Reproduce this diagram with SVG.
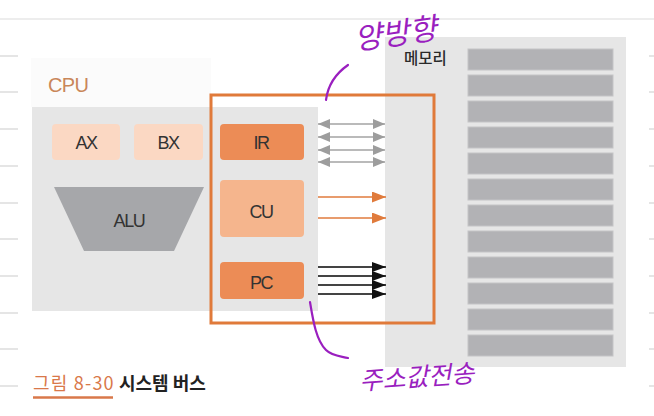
<svg xmlns="http://www.w3.org/2000/svg" width="654" height="416" viewBox="0 0 654 416">
<style>
  .lbl{font-family:"Liberation Sans",Arial,sans-serif;font-size:18px;fill:#333;text-anchor:middle;letter-spacing:-1.4px}
  .kr{font-family:"Noto Sans CJK KR","Noto Sans",sans-serif}
  .tick{stroke:#d4d4d4;stroke-width:1.2}
  .row{fill:#b2b2b5;stroke:#c4c4c6;stroke-width:1}
  .hand{fill:none;stroke:#9a1fbf;stroke-width:2.2;stroke-linecap:round}
  .htext{font-family:"Noto Sans CJK KR",sans-serif;fill:#9a1fbf;font-style:italic}
  .gbus{stroke:#a3a3a3;stroke-width:1.6}
  .obus{stroke:#e07b3c;stroke-width:1.6}
  .kbus{stroke:#444;stroke-width:2.2}
</style>
<defs>
  <marker id="ga" markerUnits="userSpaceOnUse" markerWidth="12" markerHeight="10" refX="12" refY="5" orient="auto-start-reverse">
    <path d="M0,0 L12,5 L0,10 Z" fill="#9d9d9d"/>
  </marker>
  <marker id="oa" markerUnits="userSpaceOnUse" markerWidth="14" markerHeight="11" refX="14" refY="5.5" orient="auto">
    <path d="M0,0 L14,5.5 L0,11 Z" fill="#e07b3c"/>
  </marker>
  <marker id="ka" markerUnits="userSpaceOnUse" markerWidth="14" markerHeight="10" refX="14" refY="5" orient="auto">
    <path d="M0,0 L14,5 L0,10 Z" fill="#111"/>
  </marker>
</defs>
<rect width="654" height="416" fill="#fff"/>
<g id="page-lines">
  <line x1="0" y1="19" x2="654" y2="19" stroke="#dcdcdc" stroke-width="1.2"/>
  <line class="tick" x1="0" y1="56" x2="18" y2="56"/>
  <line class="tick" x1="0" y1="92" x2="18" y2="92"/>
  <line class="tick" x1="0" y1="129" x2="18" y2="129"/>
  <line class="tick" x1="0" y1="166" x2="18" y2="166"/>
  <line class="tick" x1="0" y1="203" x2="18" y2="203"/>
  <line class="tick" x1="0" y1="239" x2="18" y2="239"/>
  <line class="tick" x1="0" y1="276" x2="18" y2="276"/>
  <line class="tick" x1="0" y1="313" x2="18" y2="313"/>
  <line class="tick" x1="0" y1="349" x2="18" y2="349"/>
  <line class="tick" x1="0" y1="386" x2="18" y2="386"/>
  <line class="tick" x1="649" y1="56" x2="654" y2="56"/>
  <line class="tick" x1="649" y1="92" x2="654" y2="92"/>
  <line class="tick" x1="649" y1="129" x2="654" y2="129"/>
  <line class="tick" x1="649" y1="166" x2="654" y2="166"/>
  <line class="tick" x1="649" y1="203" x2="654" y2="203"/>
  <line class="tick" x1="649" y1="239" x2="654" y2="239"/>
  <line class="tick" x1="649" y1="276" x2="654" y2="276"/>
  <line class="tick" x1="649" y1="313" x2="654" y2="313"/>
  <line class="tick" x1="649" y1="349" x2="654" y2="349"/>
  <line class="tick" x1="649" y1="386" x2="654" y2="386"/>
</g>
<g id="memory">
  <rect x="385" y="37" width="241" height="330" fill="#e6e6e6"/>
  <text x="404" y="64" class="kr" font-size="15.5" font-weight="500" fill="#2a2a2a">메모리</text>
  <rect class="row" x="468" y="49" width="145" height="21"/>
  <rect class="row" x="468" y="75" width="145" height="21"/>
  <rect class="row" x="468" y="101" width="145" height="21"/>
  <rect class="row" x="468" y="127" width="145" height="21"/>
  <rect class="row" x="468" y="153" width="145" height="21"/>
  <rect class="row" x="468" y="179" width="145" height="21"/>
  <rect class="row" x="468" y="205" width="145" height="21"/>
  <rect class="row" x="468" y="231" width="145" height="21"/>
  <rect class="row" x="468" y="257" width="145" height="21"/>
  <rect class="row" x="468" y="283" width="145" height="21"/>
  <rect class="row" x="468" y="309" width="145" height="21"/>
  <rect class="row" x="468" y="335" width="145" height="21"/>
</g>
<g id="cpu">
  <rect x="31" y="58" width="180" height="49" fill="#fbfbfb"/>
  <rect x="32" y="107" width="286" height="204" fill="#e6e6e6"/>
  <text x="48" y="92" font-family="Liberation Sans,Arial,sans-serif" font-size="20" fill="#c98659" letter-spacing="-0.6">CPU</text>
</g>
<g id="ax">
  <rect x="52" y="124" width="68" height="36" rx="4" fill="#fbd8c3"/>
  <text class="lbl" x="86" y="148.5">AX</text>
</g>
<g id="bx">
  <rect x="134" y="124" width="69" height="36" rx="4" fill="#fbd8c3"/>
  <text class="lbl" x="168" y="148.5">BX</text>
</g>
<g id="alu">
  <path d="M54,187 L204,187 L174,251 L84,251 Z" fill="#a6a7aa"/>
  <text class="lbl" x="129" y="227">ALU</text>
</g>
<g id="ir">
  <rect x="220" y="124" width="84" height="36" rx="4" fill="#ec8c56"/>
  <text class="lbl" x="261" y="148.5">IR</text>
</g>
<g id="cu">
  <rect x="220" y="180" width="84" height="57" rx="4" fill="#f5b58d"/>
  <text class="lbl" x="261" y="218">CU</text>
</g>
<g id="pc">
  <rect x="220" y="262" width="84" height="37" rx="4" fill="#ec8c56"/>
  <text class="lbl" x="261" y="288.5">PC</text>
</g>
<g id="connectors">
  <line class="gbus" x1="318" y1="124" x2="385" y2="124" marker-start="url(#ga)" marker-end="url(#ga)"/>
  <line class="gbus" x1="318" y1="137" x2="385" y2="137" marker-start="url(#ga)" marker-end="url(#ga)"/>
  <line class="gbus" x1="318" y1="150" x2="385" y2="150" marker-start="url(#ga)" marker-end="url(#ga)"/>
  <line class="gbus" x1="318" y1="162" x2="385" y2="162" marker-start="url(#ga)" marker-end="url(#ga)"/>
  <line class="obus" x1="318" y1="197" x2="386" y2="197" marker-end="url(#oa)"/>
  <line class="obus" x1="318" y1="218" x2="386" y2="218" marker-end="url(#oa)"/>
  <line class="kbus" x1="318" y1="267" x2="386" y2="267" marker-end="url(#ka)"/>
  <line class="kbus" x1="318" y1="276" x2="386" y2="276" marker-end="url(#ka)"/>
  <line class="kbus" x1="318" y1="285" x2="386" y2="285" marker-end="url(#ka)"/>
  <line class="kbus" x1="318" y1="294" x2="386" y2="294" marker-end="url(#ka)"/>
</g>
<g id="system-bus-frame">
  <rect x="211" y="95" width="223" height="228" fill="none" stroke="#e07a3a" stroke-width="3"/>
</g>
<g id="caption">
  <text x="33" y="390" class="kr" font-size="18" fill="#d9784a" letter-spacing="1.2">그림 8-30</text>
  <line x1="33" y1="397.5" x2="113" y2="397.5" stroke="#d9784a" stroke-width="2.5"/>
  <text x="119" y="390" class="kr" font-size="18" font-weight="bold" fill="#222">시스템 버스</text>
</g>
<g id="annotations">
  <path class="hand" d="M348,65 C338,72 328,84 326,100"/>
  <text class="htext" x="356" y="50" font-size="30" transform="rotate(-8 356 50)">양방향</text>
  <path class="hand" d="M310,302 C313,320 316,340 326,350 C332,356 340,356 348,358"/>
  <text class="htext" x="360" y="390" font-size="25" transform="rotate(-4 360 390)">주소값전송</text>
</g>
</svg>
